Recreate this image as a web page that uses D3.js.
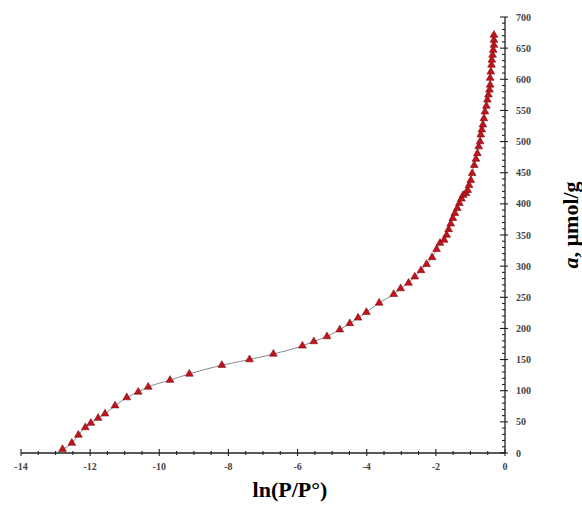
<!DOCTYPE html>
<html><head><meta charset="utf-8">
<script src="https://cdn.jsdelivr.net/npm/d3@7"></script>
<style>body{margin:0;background:#fff}svg{display:block}</style>
</head><body>
<script>
const lnP = [-12.80,-12.53,-12.34,-12.14,-11.98,-11.77,-11.57,-11.28,-10.94,-10.61,-10.32,-9.69,-9.13,-8.19,-7.39,-6.70,-5.86,-5.53,-5.15,-4.78,-4.49,-4.25,-4.01,-3.64,-3.22,-3.02,-2.79,-2.61,-2.43,-2.27,-2.11,-1.98,-1.88,-1.76,-1.69,-1.63,-1.57,-1.51,-1.45,-1.38,-1.32,-1.26,-1.21,-1.13,-1.08,-1.04,-0.99,-0.95,-0.89,-0.84,-0.80,-0.76,-0.72,-0.70,-0.67,-0.64,-0.61,-0.58,-0.54,-0.51,-0.48,-0.45,-0.43,-0.43,-0.41,-0.39,-0.38,-0.36,-0.34,-0.32,-0.32,-0.32];
const amount = [6,16,29,41,48,56,63,76,89,98,106,117,127,141,150,159,172,179,187,198,208,217,226,241,255,264,273,283,293,303,314,327,337,342,350,359,368,377,385,393,401,408,414,417,422,430,438,449,462,472,481,492,500,511,519,527,537,548,557,567,575,583,591,602,612,623,631,639,647,655,663,671];
const xTicks = [-14,-12,-10,-8,-6,-4,-2,0];
const yTicks = [0,50,100,150,200,250,300,350,400,450,500,550,600,650,700];
const xLabel = "ln(P/P°)";

const W = 582, H = 506;
const svg = d3.select("body").append("svg").attr("width", W).attr("height", H);
const x = d3.scaleLinear().domain([-14, 0]).range([21, 505]);
const y = d3.scaleLinear().domain([0, 700]).range([453, 17]);
const tickFont = "'Liberation Serif', 'DejaVu Serif', serif";

svg.append("line").attr("x1", x(-14)).attr("x2", x(0)).attr("y1", y(0)).attr("y2", y(0))
  .attr("stroke", "#222").attr("stroke-width", 1.3);
d3.range(-14, 0.001, 0.5).forEach(v => {
  const major = Math.abs(v % 2) < 1e-9;
  svg.append("line").attr("x1", x(v)).attr("x2", x(v))
    .attr("y1", y(0) - (major ? 4 : 2)).attr("y2", y(0) + (major ? 3 : 2))
    .attr("stroke", "#222").attr("stroke-width", 1.1);
});
svg.selectAll(".xt").data(xTicks).enter().append("text")
  .attr("x", d => x(d)).attr("y", y(0) + 17)
  .attr("text-anchor", "middle").attr("font-family", tickFont)
  .attr("font-weight", "bold").attr("font-size", 10).attr("fill", "#444")
  .text(d => d);

svg.append("line").attr("x1", x(0)).attr("x2", x(0)).attr("y1", y(0)).attr("y2", y(700))
  .attr("stroke", "#222").attr("stroke-width", 1.3);
d3.range(0, 700.001, 10).forEach(v => {
  const major = v % 50 === 0;
  svg.append("line").attr("x1", x(0) - (major ? 5 : 3)).attr("x2", x(0) + (major ? 3 : 0))
    .attr("y1", y(v)).attr("y2", y(v))
    .attr("stroke", "#222").attr("stroke-width", 1.1);
});
svg.selectAll(".yt").data(yTicks).enter().append("text")
  .attr("x", x(0) + 11).attr("y", d => y(d) + 3.5)
  .attr("text-anchor", "start").attr("font-family", tickFont)
  .attr("font-weight", "bold").attr("font-size", 10).attr("fill", "#444")
  .text(d => d);

const pts = lnP.map((v, i) => [v, amount[i]]);
svg.append("path").datum(pts)
  .attr("d", d3.line().x(d => x(d[0])).y(d => y(d[1])).curve(d3.curveMonotoneX))
  .attr("fill", "none").attr("stroke", "#888").attr("stroke-width", 1);

const tri = d3.symbol().type(d3.symbolTriangle).size(26);
svg.selectAll(".pt").data(pts).enter().append("path")
  .attr("d", tri)
  .attr("transform", d => `translate(${x(d[0])},${y(d[1])})`)
  .attr("fill", "#c0141c").attr("stroke", "#7a0a0e").attr("stroke-width", 0.6);

svg.append("text").attr("x", 290).attr("y", 497).attr("text-anchor", "middle")
  .attr("font-family", tickFont).attr("font-weight", "bold").attr("font-size", 22)
  .attr("fill", "#000").text(xLabel);

const yt = svg.append("text").attr("transform", "translate(578,225) rotate(-90)")
  .attr("text-anchor", "middle").attr("font-family", tickFont)
  .attr("font-weight", "bold").attr("font-size", 22).attr("fill", "#000");
yt.append("tspan").attr("font-style", "italic").text("a");
yt.append("tspan").text(", µmol/g");
</script>
</body></html>
